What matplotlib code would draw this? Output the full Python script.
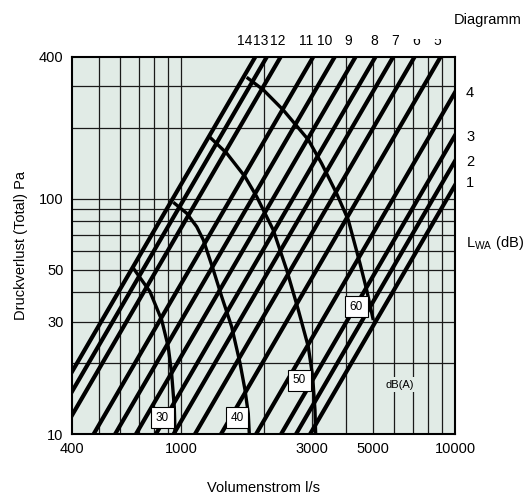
import numpy as np
import matplotlib
matplotlib.use('Agg')
import matplotlib.pyplot as plt
from matplotlib.patches import Rectangle

plt.rcParams['font.family'] = ['Liberation Sans', 'DejaVu Sans']
plt.rcParams['mathtext.fontset'] = 'custom'
plt.rcParams['mathtext.rm'] = 'Liberation Sans'

# fan lines: flow (l/s) at which each diagram line reaches 10 Pa (dp ~ Q^2)
diagram = [1, 2, 3, 4, 5, 6, 7, 8, 9, 10, 11, 12, 13, 14]
q_at_10pa = [2960, 2630, 2320, 1880, 1400, 1125, 940, 810, 685, 575, 480, 365, 325, 295]

# sound level curves dB(A)
db30_q = [670, 770, 850, 898, 924, 945, 951]
db30_p = [50.6, 40.3, 30.5, 23.5, 18.1, 13.0, 10]
db40_q = [937, 1049, 1141, 1206, 1312, 1408, 1530, 1642, 1712, 1760, 1775]
db40_p = [96.5, 86.7, 76.0, 66.8, 49.8, 38.3, 28.6, 20.0, 15.4, 12.2, 10]
db50_q = [1275, 1468, 1712, 1889, 2171, 2430, 2679, 2914, 3024, 3083, 3100]
db50_p = [182.4, 156, 124, 102, 73.6, 49.8, 33.7, 23.5, 17.5, 12.6, 10]
db60_q = [1736, 1997, 2362, 2914, 3261, 3700, 4078, 4499, 4761, 5032]
db60_p = [328, 290, 238, 178, 141, 105, 81.2, 53.1, 40.9, 30.5]

xticks = [400, 1000, 3000, 5000, 10000]
yticks = [10, 30, 50, 100, 400]
xgrid = [500, 600, 700, 800, 900, 1000, 2000, 3000, 4000, 5000, 6000, 7000, 8000, 9000]
ygrid = [20, 30, 40, 50, 60, 70, 80, 90, 100, 200, 300]

W, H = 529, 500
fig = plt.figure(figsize=(W / 100, H / 100), dpi=100)
ax = fig.add_axes([72 / W, 1 - 434 / H, (455 - 72) / W, (434 - 57) / H])
ax.set_xscale('log')
ax.set_yscale('log')
ax.set_xlim(400, 10000)
ax.set_ylim(10, 400)
ax.set_facecolor('#e1ebe6')

for g in xgrid:
    ax.axvline(g, color='#1a1a1a', lw=0.9, zorder=1)
for g in ygrid:
    ax.axhline(g, color='#1a1a1a', lw=0.9, zorder=1)

q = np.array([200, 20000])
for q10 in q_at_10pa:
    ax.plot(q, 10 * (q / q10) ** 2, color='black', lw=3.0, solid_capstyle='butt', zorder=3)

for cq, cp in [(db30_q, db30_p), (db40_q, db40_p), (db50_q, db50_p), (db60_q, db60_p)]:
    ax.plot(cq, cp, color='black', lw=2.4, solid_capstyle='butt', zorder=3)

box = dict(boxstyle='square,pad=0.4', facecolor='white', edgecolor='black', lw=0.8)
for txt, bq, bp in [('30', 856, 11.75), ('40', 1601, 11.75), ('50', 2706, 16.9), ('60', 4369, 34.8)]:
    ax.text(bq, bp, txt, ha='center', va='center', fontsize=8.5, bbox=box, zorder=5)
ax.text(6296, 16.2, 'dB(A)', ha='center', va='center', fontsize=8, zorder=5,
        bbox=dict(boxstyle='square,pad=0.2', facecolor='#e1ebe6', edgecolor='none'))

ax.set_xticks(xticks)
ax.set_xticklabels([str(t) for t in xticks])
ax.set_yticks(yticks)
ax.set_yticklabels([str(t) for t in yticks])
ax.minorticks_off()
ax.tick_params(length=0, labelsize=10.5, pad=6)
for s in ax.spines.values():
    s.set_linewidth(1.5)
    s.set_zorder(6)

ax.set_xlabel('Volumenstrom l/s', fontsize=10.5, labelpad=18)
ax.set_ylabel('Druckverlust (Total) Pa', fontsize=10.5, labelpad=8)

# diagram numbers along the top and right edges
top_nums = ['14', '13', '12', '11', '10', '9', '8', '7', '6', '5']
top_x = [245, 261, 278, 306, 325, 348, 374, 395, 416, 437]
for t, x in zip(top_nums, top_x):
    fig.text(x / W, 1 - 41 / H, t, ha='center', va='center', fontsize=10)
# the "Diagramm" caption sits on a white patch that hides the tops of 6 and 5
fig.patches.append(Rectangle((405 / W, 1 - 39 / H), 124 / W, 39 / H, transform=fig.transFigure,
                             facecolor='white', edgecolor='none', zorder=4))
fig.text(488 / W, 1 - 20 / H, 'Diagramm', ha='center', va='center', fontsize=10.5, zorder=5)

right_nums = ['4', '3', '2', '1']
right_y = [93, 137, 162, 183]
for t, y in zip(right_nums, right_y):
    fig.text(466 / W, 1 - y / H, t, ha='left', va='center', fontsize=10.5)
fig.text(466 / W, 1 - 243 / H, 'L$_{\\mathrm{WA}}$ (dB)', ha='left', va='center', fontsize=10.5)

fig.savefig('out.png', dpi=100)
